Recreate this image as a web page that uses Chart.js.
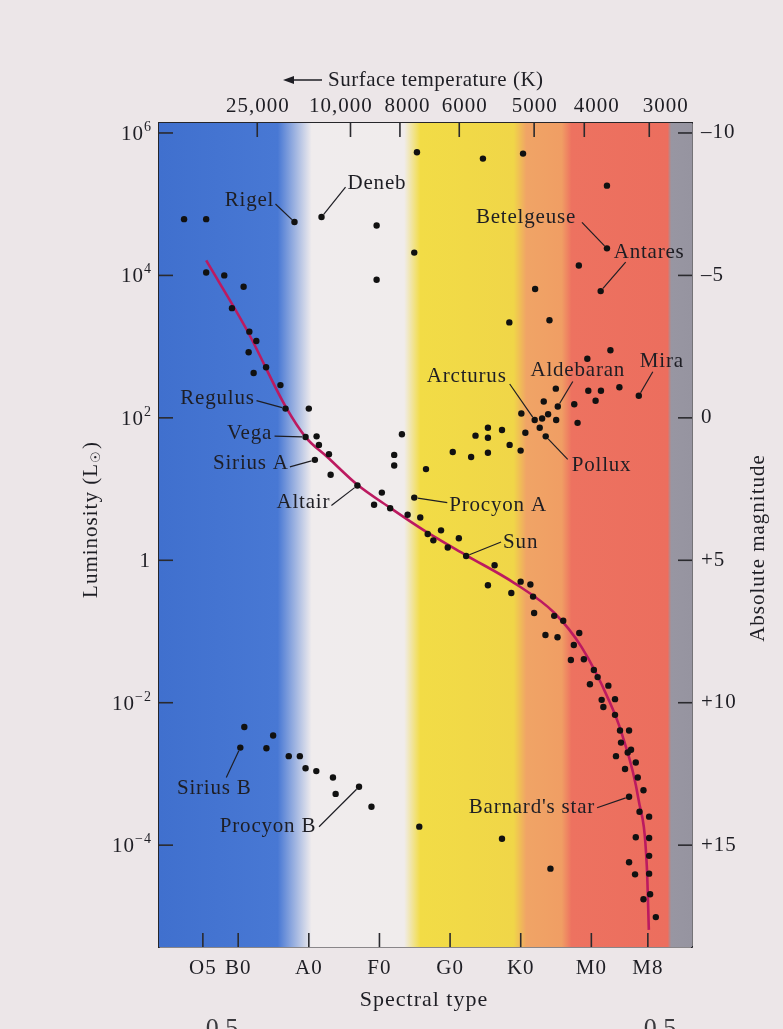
<!DOCTYPE html>
<html><head><meta charset="utf-8">
<script src="https://cdn.jsdelivr.net/npm/chart.js@4"></script>
<style>html,body{margin:0;padding:0;background:#ece6e8;}canvas{display:block}</style>
</head><body>
<canvas id="c" width="783" height="1029"></canvas>
<script>
// ---------- DATA ----------
// spectral type axis: O0 = 0, B0 = 10, A0 = 20, F0 = 30, G0 = 40, K0 = 50, M0 = 60
const spectralTickValues = [5, 10, 20, 30, 40, 50, 60, 68];
const spectralTickLabels = ['O5', 'B0', 'A0', 'F0', 'G0', 'K0', 'M0', 'M8'];
const temperatureTickValues = [12.7, 25.9, 32.9, 41.3, 51.9, 59.0, 68.2];
const temperatureTickLabels = ['25,000', '10,000', '8000', '6000', '5000', '4000', '3000'];
const luminosityTickExponents = [6, 4, 2, 0, -2, -4];
const luminosityTickBases = ['10', '10', '10', '1', '10', '10'];
const luminosityTickPowers = ['6', '4', '2', '', '\u22122', '\u22124'];
const magnitudeTickValues = [-10, -5, 0, 5, 10, 15];
const magnitudeTickLabels = ['\u201310', '\u20135', '0', '+5', '+10', '+15'];

// stars: spectral type index and log10 luminosity (L_sun)
const starSpectral = [
  2.34, 5.47, 17.97, 21.8, 29.6, 5.47, 8.03, 10.77, 9.12, 11.58, 12.57, 11.48, 13.95, 12.19, 15.98, 16.7, 20.0, 29.6,
  35.31, 44.65, 50.33, 62.21, 34.93, 62.21, 58.23, 52.04, 61.32, 48.39, 54.07, 62.7, 59.43, 54.97, 59.57, 61.36, 63.97,
  66.72, 60.6, 57.58, 53.26, 55.25, 50.09, 53.88, 51.98, 53.03, 55.02, 58.05, 45.36, 47.35, 52.69,
  53.54, 50.66, 43.6, 45.36, 48.43, 49.99, 45.36, 42.98, 40.38, 33.18, 32.09, 32.09, 36.59, 30.34, 34.93, 31.52, 33.99,
  35.78, 36.83, 38.72, 37.63, 41.24, 39.67, 42.27, 46.3, 45.36, 49.99, 51.37, 48.67, 51.75, 51.9, 54.74, 56.02, 58.29,
  53.5, 55.21, 57.52, 57.1, 58.94, 60.36, 60.89, 59.8, 62.41, 61.46, 63.35, 61.7, 63.35,
  19.54, 21.1, 21.43, 22.85, 20.86, 23.09, 26.88, 29.24,
  64.06, 65.34, 64.2, 65.62, 65.15, 63.49, 66.29, 64.77, 66.57, 67.38, 65.34, 66.82, 68.18, 35.64, 47.35, 66.29, 68.18,
  68.18, 65.34, 54.21, 66.19, 68.18, 68.32, 67.38, 69.13,
  10.87, 10.3, 14.95, 14.0, 17.16, 18.73, 19.54, 21.06, 23.42, 23.8, 27.11, 28.87
];
const starLogLum = [
  4.79, 4.79, 4.75, 4.82, 4.70, 4.04, 4.00, 3.84, 3.54, 3.21, 3.08, 2.92, 2.71, 2.63, 2.46, 2.13, 2.13, 3.94,
  5.73, 5.64, 5.71, 5.26, 4.32, 4.38, 4.14, 3.81, 3.78, 3.34, 3.37, 2.95, 2.83, 2.41, 2.38, 2.38, 2.43,
  2.31, 2.24, 2.19, 2.23, 2.16, 2.06, 2.05, 1.97, 1.99, 1.97, 1.93, 1.86, 1.83, 1.86,
  1.74, 1.79, 1.75, 1.72, 1.62, 1.54, 1.51, 1.45, 1.52, 1.77, 1.48, 1.33, 1.28, 0.95, 0.88, 0.73, 0.64,
  0.60, 0.37, 0.42, 0.28, 0.31, 0.18, 0.06, -0.07, -0.35, -0.30, -0.34, -0.46, -0.51, -0.74, -0.78, -0.85, -1.02,
  -1.05, -1.08, -1.19, -1.40, -1.39, -1.54, -1.64, -1.74, -1.76, -1.96, -1.95, -2.06, -2.17,
  1.73, 1.74, 1.62, 1.49, 1.41, 1.20, 1.05, 0.78,
  -2.39, -2.39, -2.56, -2.66, -2.70, -2.75, -2.84, -2.93, -3.05, -3.23, -3.32, -3.53, -3.60, -3.74, -3.91, -3.89, -3.90,
  -4.15, -4.24, -4.33, -4.41, -4.40, -4.69, -4.76, -5.01,
  -2.34, -2.63, -2.46, -2.64, -2.75, -2.75, -2.92, -2.96, -3.05, -3.28, -3.18, -3.46
];

// main-sequence curve
const mainSeqSpectral = [5.47, 11.25, 16.7, 19.54, 22.62, 26.88, 31.62, 36.31, 42.28, 49.1, 54.78, 58.62, 62.46, 64.3, 66.7, 67.86, 68.14];
const mainSeqLogLum = [4.21, 3.23, 2.16, 1.73, 1.45, 1.06, 0.73, 0.42, 0.07, -0.32, -0.74, -1.22, -1.96, -2.43, -3.37, -4.31, -5.19];

// named stars
const namedStars = ['Rigel', 'Deneb', 'Betelgeuse', 'Antares', 'Arcturus', 'Aldebaran', 'Mira', 'Pollux', 'Regulus', 'Vega', 'Sirius A', 'Altair', 'Procyon A', 'Sun', 'Sirius B', 'Procyon B', "Barnard's star"];
const namedSpectral = [17.97, 21.8, 62.21, 61.32, 51.98, 55.25, 66.72, 53.54, 16.7, 19.54, 20.86, 26.88, 34.93, 42.27, 10.3, 27.11, 65.34];
const namedLogLum = [4.75, 4.82, 4.38, 3.78, 1.97, 2.16, 2.31, 1.74, 2.13, 1.73, 1.41, 1.05, 0.88, 0.06, -2.63, -3.18, -3.32];

// ---------- LAYOUT / STYLE ----------
// text offset (tx,ty) and leader start (lx,ly) in px relative to the star
const labelLayout = {
  'Rigel': {tx: -45, ty: -22, align: 'center', lx: -19, ly: -18},
  'Deneb': {tx: 26, ty: -34, align: 'left', lx: 24, ly: -30},
  'Betelgeuse': {tx: -81, ty: -31, align: 'center', lx: -25, ly: -26},
  'Antares': {tx: 13, ty: -39, align: 'left', lx: 25, ly: -29},
  'Arcturus': {tx: -68, ty: -43, align: 'center', lx: -25, ly: -36},
  'Aldebaran': {tx: 20, ty: -36, align: 'center', lx: 15, ly: -25},
  'Mira': {tx: 1, ty: -34, align: 'left', lx: 14, ly: -24},
  'Pollux': {tx: 26, ty: 29, align: 'left', lx: 22, ly: 23},
  'Regulus': {tx: -68, ty: -10, align: 'center', lx: -29, ly: -8},
  'Vega': {tx: -56, ty: -4, align: 'center', lx: -31, ly: -1},
  'Sirius A': {tx: -64, ty: 4, align: 'center', lx: -25, ly: 7},
  'Altair': {tx: -54, ty: 17, align: 'center', lx: -26, ly: 20},
  'Procyon A': {tx: 35, ty: 8, align: 'left', lx: 33, ly: 5},
  'Sun': {tx: 37, ty: -14, align: 'left', lx: 35, ly: -14},
  'Sirius B': {tx: -26, ty: 41, align: 'center', lx: -14, ly: 30},
  'Procyon B': {tx: -91, ty: 40, align: 'center', lx: -40, ly: 40},
  "Barnard's star": {tx: -34, ty: 11, align: 'right', lx: -32, ly: 11}
};
// horizontal shift (px) of each temperature label from its tick
const temperatureLabelShift = [0, -10, 7, 5, 0, 12, 16];

const SERIF = "'Liberation Serif', 'DejaVu Serif', serif";
const INK = '#1e1e24';

const bandStops = [
  [-1.21, 'rgb(64,112,206)'], [15.6, 'rgb(72,120,212)'], [20.4, 'rgb(240,236,237)'],
  [33.5, 'rgb(240,236,236)'], [35.8, 'rgb(242,220,70)'], [49.0, 'rgb(240,214,72)'],
  [50.8, 'rgb(240,164,102)'], [55.8, 'rgb(240,158,100)'], [57.2, 'rgb(237,114,96)'],
  [70.8, 'rgb(236,110,94)'], [71.3, 'rgb(152,150,162)'], [74.25, 'rgb(150,148,160)']
];

const spacingPlugin = {
  id: 'spacing',
  beforeDraw(chart) { chart.ctx.letterSpacing = '1px'; }
};

const bandsPlugin = {
  id: 'bands',
  beforeDatasetsDraw(chart) {
    const {ctx, chartArea: a, scales: {x}} = chart;
    const g = ctx.createLinearGradient(a.left, 0, a.right, 0);
    const w = a.right - a.left;
    bandStops.forEach(([v, c]) => {
      const t = Math.min(1, Math.max(0, (x.getPixelForValue(v) - a.left) / w));
      g.addColorStop(t, c);
    });
    ctx.save();
    ctx.fillStyle = g;
    ctx.fillRect(a.left, a.top, w, a.bottom - a.top);
    ctx.restore();
  }
};

const ticksPlugin = {
  id: 'inwardTicks',
  afterDatasetsDraw(chart) {
    const {ctx, chartArea: a, scales} = chart;
    const L = 14;
    ctx.save();
    ctx.strokeStyle = '#2a2a2e';
    ctx.lineWidth = 1.6;
    const seg = (x1, y1, x2, y2) => { ctx.beginPath(); ctx.moveTo(x1, y1); ctx.lineTo(x2, y2); ctx.stroke(); };
    scales.x.ticks.forEach(t => { const p = scales.x.getPixelForValue(t.value); seg(p, a.bottom, p, a.bottom - L); });
    scales.x2.ticks.forEach(t => { const p = scales.x2.getPixelForValue(t.value); seg(p, a.top, p, a.top + L); });
    scales.y.ticks.forEach(t => { const p = scales.y.getPixelForValue(t.value); seg(a.left, p, a.left + L, p); });
    scales.y2.ticks.forEach(t => { const p = scales.y2.getPixelForValue(t.value); seg(a.right, p, a.right - L, p); });
    ctx.fillStyle = INK;
    ctx.letterSpacing = '1px';
    // luminosity tick labels with real superscripts
    ctx.textBaseline = 'alphabetic';
    ctx.textAlign = 'right';
    const right = a.left - 8;
    scales.y.ticks.forEach((t, i) => {
      const p = scales.y.getPixelForValue(t.value);
      const pow = luminosityTickPowers[i];
      ctx.font = '14px ' + SERIF;
      const pw = pow ? ctx.measureText(pow).width : 0;
      if (pow) ctx.fillText(pow, right + 1, p - 2);
      ctx.font = '21px ' + SERIF;
      ctx.fillText(luminosityTickBases[i], right - pw + (pow ? 1 : 0), p + 7);
    });
    // temperature tick labels
    ctx.textBaseline = 'middle';
    ctx.textAlign = 'center';
    ctx.font = '21px ' + SERIF;
    scales.x2.ticks.forEach((t, i) => {
      const p = scales.x2.getPixelForValue(t.value);
      ctx.fillText(temperatureTickLabels[i], p + temperatureLabelShift[i] + 0.5, 106);
    });
    ctx.restore();
  }
};

const labelsPlugin = {
  id: 'starLabels',
  afterDatasetsDraw(chart) {
    const {ctx, scales: {x, y}} = chart;
    ctx.save();
    ctx.font = '21px ' + SERIF;
    ctx.letterSpacing = '0.8px';
    ctx.textBaseline = 'middle';
    namedStars.forEach((name, i) => {
      const px = x.getPixelForValue(namedSpectral[i]);
      const py = y.getPixelForValue(Math.pow(10, namedLogLum[i]));
      const lay = labelLayout[name];
      const sx = px + lay.lx, sy = py + lay.ly;
      const dx = sx - px, dy = sy - py, d = Math.hypot(dx, dy) || 1;
      ctx.strokeStyle = INK;
      ctx.lineWidth = 1.2;
      ctx.beginPath();
      ctx.moveTo(sx, sy);
      ctx.lineTo(px + dx / d * 3.5, py + dy / d * 3.5);
      ctx.stroke();
      ctx.fillStyle = INK;
      ctx.textAlign = lay.align;
      ctx.fillText(name, px + lay.tx, py + lay.ty);
    });
    ctx.restore();
  }
};

const titlesPlugin = {
  id: 'titles',
  afterDraw(chart) {
    const {ctx} = chart;
    ctx.save();
    ctx.fillStyle = INK;
    ctx.strokeStyle = INK;
    ctx.textBaseline = 'middle';
    // top title with arrow
    ctx.letterSpacing = '0.5px';
    ctx.font = '21px ' + SERIF;
    ctx.textAlign = 'left';
    ctx.fillText('Surface temperature (K)', 328, 80);
    ctx.lineWidth = 1.4;
    ctx.beginPath(); ctx.moveTo(286, 80); ctx.lineTo(322, 80); ctx.stroke();
    ctx.beginPath(); ctx.moveTo(283, 80); ctx.lineTo(294, 76); ctx.lineTo(294, 84); ctx.closePath(); ctx.fill();
    // bottom title
    ctx.letterSpacing = '1px';
    ctx.font = '22px ' + SERIF;
    ctx.textAlign = 'center';
    ctx.fillText('Spectral type', 424, 1000);
    // left title with subscript sun symbol
    ctx.save();
    ctx.translate(91, 520);
    ctx.rotate(-Math.PI / 2);
    const s1 = 'Luminosity (L', s2 = '\u2609', s3 = ')';
    ctx.font = '21px ' + SERIF;
    const w1 = ctx.measureText(s1).width, w3 = ctx.measureText(s3).width;
    ctx.font = '13px ' + SERIF;
    const w2 = ctx.measureText(s2).width;
    const sx = -(w1 + w2 + w3) / 2;
    ctx.textAlign = 'left';
    ctx.font = '21px ' + SERIF;
    ctx.fillText(s1, sx, 0);
    ctx.font = '13px ' + SERIF;
    ctx.fillText(s2, sx + w1, 6);
    ctx.font = '21px ' + SERIF;
    ctx.fillText(s3, sx + w1 + w2 + 1, 0);
    ctx.restore();
    // right title
    ctx.save();
    ctx.translate(758, 548);
    ctx.rotate(-Math.PI / 2);
    ctx.textAlign = 'center';
    ctx.font = '21px ' + SERIF;
    ctx.fillText('Absolute magnitude', 0, 0);
    ctx.restore();
    // cut-off text fragments at page bottom
    ctx.letterSpacing = '0px';
    ctx.font = '26px ' + SERIF;
    ctx.fillStyle = '#3a3a3e';
    ctx.textBaseline = 'alphabetic';
    ctx.textAlign = 'center';
    ctx.fillText('0.5', 222, 1036);
    ctx.fillText('0.5', 660, 1036);
    ctx.restore();
  }
};

const stars = starSpectral.map((v, i) => ({x: v, y: Math.pow(10, starLogLum[i])}));
const mainSeq = mainSeqSpectral.map((v, i) => ({x: v, y: Math.pow(10, mainSeqLogLum[i])}));

const tickFont = {family: SERIF, size: 21};
const X_MIN = -1.21, X_MAX = 74.25, LOG_MIN = -5.43, LOG_MAX = 6.14;
const fixW = w => s => { s.width = w; };
const fixH = h => s => { s.height = h; };

new Chart(document.getElementById('c'), {
  type: 'scatter',
  data: {
    datasets: [
      {label: 'Stars', data: stars, order: 0, pointRadius: 3.2, pointHoverRadius: 3.2,
       backgroundColor: '#111', borderWidth: 0},
      {label: 'Main sequence', type: 'line', data: mainSeq, order: 1, showLine: true,
       borderColor: '#bc1a60', borderWidth: 2.6, pointRadius: 0, fill: false,
       cubicInterpolationMode: 'monotone'}
    ]
  },
  options: {
    responsive: false,
    animation: false,
    events: [],
    layout: {padding: 0},
    plugins: {legend: {display: false}, tooltip: {enabled: false}},
    scales: {
      x: {
        type: 'linear', position: 'bottom', min: X_MIN, max: X_MAX,
        afterBuildTicks: s => { s.ticks = spectralTickValues.map(v => ({value: v})); },
        afterFit: fixH(82),
        grid: {display: false, drawTicks: false},
        border: {display: true, color: '#26262a', width: 1.6},
        ticks: {autoSkip: false, maxRotation: 0, padding: 9, color: INK, font: tickFont,
                callback: (v, i) => spectralTickLabels[i]}
      },
      x2: {
        type: 'linear', position: 'top', min: X_MIN, max: X_MAX,
        afterBuildTicks: s => { s.ticks = temperatureTickValues.map(v => ({value: v})); },
        afterFit: fixH(123),
        grid: {display: false, drawTicks: false},
        border: {display: true, color: '#26262a', width: 1.6},
        ticks: {display: false}
      },
      y: {
        type: 'logarithmic', position: 'left', min: Math.pow(10, LOG_MIN), max: Math.pow(10, LOG_MAX),
        afterBuildTicks: s => { s.ticks = luminosityTickExponents.map(e => ({value: Math.pow(10, e)})); },
        afterFit: fixW(159),
        grid: {display: false, drawTicks: false},
        border: {display: true, color: '#26262a', width: 1.6},
        ticks: {display: false}
      },
      y2: {
        type: 'linear', position: 'right', reverse: true,
        min: 5 - 2.5 * LOG_MAX, max: 5 - 2.5 * LOG_MIN,
        afterBuildTicks: s => { s.ticks = magnitudeTickValues.map(v => ({value: v})); },
        afterFit: fixW(91),
        grid: {display: false, drawTicks: false},
        border: {display: true, color: '#26262a', width: 1.6},
        ticks: {autoSkip: false, padding: 9, color: INK, font: tickFont,
                callback: (v, i) => magnitudeTickLabels[i]}
      }
    }
  },
  plugins: [spacingPlugin, bandsPlugin, ticksPlugin, labelsPlugin, titlesPlugin]
});
</script>
</body></html>
